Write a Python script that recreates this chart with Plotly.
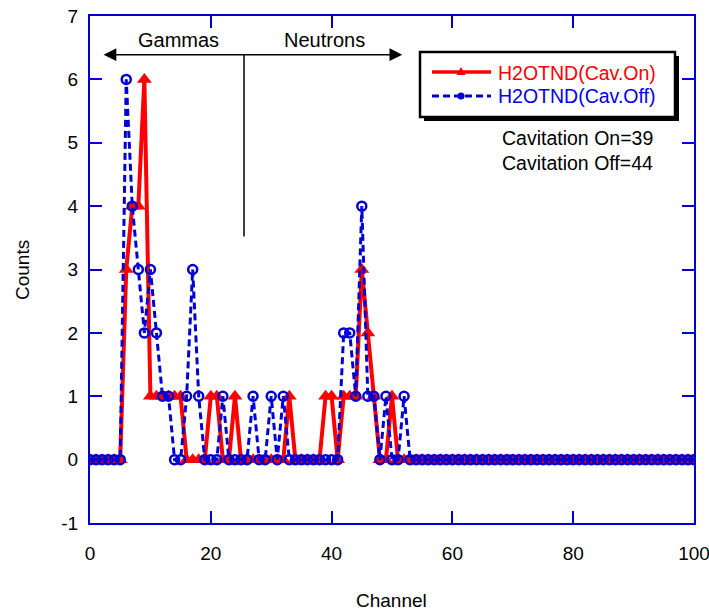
import plotly.graph_objects as go

channels = list(range(0, 101))

# Counts per channel (all channels not listed are 0)
cav_on_nonzero = {6: 3, 7: 4, 8: 4, 9: 6, 10: 1, 11: 1, 12: 1, 13: 1, 14: 1, 15: 1,
                  20: 1, 21: 1, 24: 1, 33: 1, 39: 1, 40: 1, 42: 1, 43: 1, 44: 1,
                  45: 3, 46: 2, 47: 1, 50: 1}
cav_off_nonzero = {6: 6, 7: 4, 8: 3, 9: 2, 10: 3, 11: 2, 12: 1, 13: 1, 16: 1, 17: 3,
                   18: 1, 22: 1, 27: 1, 30: 1, 32: 1, 42: 2, 43: 2, 44: 1, 45: 4,
                   46: 1, 47: 1, 49: 1, 52: 1}
cav_on = [cav_on_nonzero.get(c, 0) for c in channels]
cav_off = [cav_off_nonzero.get(c, 0) for c in channels]

x_ticks = [0, 20, 40, 60, 80, 100]
y_ticks = [-1, 0, 1, 2, 3, 4, 5, 6, 7]
y_tick_text = ["-1", "0", "1", "2", "3", "4", "5", "6", "7"]

series_names = ["H2OTND(Cav.On)", "H2OTND(Cav.Off)"]

RED = "#ff0000"
BLUE = "#0000d4"
AXIS = "#0000cc"
FONT = "Liberation Sans, Arial, sans-serif"

# plot area in pixels: left 90, right 694, top 16, bottom 523
L, R, T, B = 90, 694, 16, 523
def px(x):
    return (x - L) / (R - L)
def py(y):
    return (B - y) / (B - T)

fig = go.Figure()
fig.add_trace(go.Scatter(
    x=channels, y=cav_on, mode="lines+markers", name=series_names[0],
    line=dict(color=RED, width=4),
    marker=dict(symbol="triangle-up", size=13, color=RED),
))
fig.add_trace(go.Scatter(
    x=channels, y=cav_off, mode="lines+markers", name=series_names[1],
    line=dict(color=BLUE, width=3, dash="7px,4px"),
    marker=dict(symbol="circle-open", size=9, color=BLUE, line=dict(width=2.5, color=BLUE)),
))

axis_common = dict(
    showline=True, linecolor=AXIS, linewidth=2, mirror="ticks",
    ticks="inside", ticklen=12, tickwidth=1.5, tickcolor=AXIS,
    showgrid=False, zeroline=False, ticklabeloverflow="allow", automargin=False,
    tickfont=dict(family=FONT, size=19, color="black"),
)
fig.update_xaxes(range=[0, 100], tickvals=x_ticks, ticklabelstandoff=12, **axis_common)
fig.update_yaxes(range=[-1, 7], tickvals=y_ticks, ticktext=y_tick_text,
                 ticklabelstandoff=6, **axis_common)

fig.update_layout(
    width=709, height=614,
    margin=dict(l=L, r=709 - R, t=T, b=614 - B),
    plot_bgcolor="white", paper_bgcolor="white",
    font=dict(family=FONT, size=19, color="black"),
    showlegend=False,
)

# Axis titles
fig.add_annotation(text="Channel", xref="paper", yref="paper", x=px(391), y=py(600),
                   xanchor="center", yanchor="middle", showarrow=False, font=dict(size=19))
fig.add_annotation(text="Counts", xref="paper", yref="paper", x=px(22), y=py(270),
                   xanchor="center", yanchor="middle", textangle=-90, showarrow=False,
                   font=dict(size=19))

# Legend box (shadow + framed box)
fig.add_shape(type="rect", xref="paper", yref="paper",
              x0=px(424), x1=px(679), y0=py(121), y1=py(56),
              fillcolor="black", line=dict(width=0), layer="above")
fig.add_shape(type="rect", xref="paper", yref="paper",
              x0=px(420), x1=px(675), y0=py(117), y1=py(52),
              fillcolor="white", line=dict(color="black", width=2.5), layer="above")
# legend samples
fig.add_shape(type="line", xref="paper", yref="paper", x0=px(432), x1=px(491),
              y0=py(72), y1=py(72), line=dict(color=RED, width=3.5), layer="above")
fig.add_shape(type="path", xref="paper", yref="paper", xsizemode="pixel", ysizemode="pixel",
              xanchor=px(461), yanchor=py(72), path="M-4.5,-3 L4.5,-3 L0,5 Z",
              fillcolor=RED, line=dict(width=0), layer="above")
fig.add_shape(type="line", xref="paper", yref="paper", x0=px(432), x1=px(491),
              y0=py(96), y1=py(96), line=dict(color=BLUE, width=3, dash="7px,4px"), layer="above")
fig.add_shape(type="circle", xref="paper", yref="paper", xsizemode="pixel", ysizemode="pixel",
              xanchor=px(461), yanchor=py(96), x0=-3.5, x1=3.5, y0=-3.5, y1=3.5,
              fillcolor=BLUE, line=dict(width=0), layer="above")
fig.add_annotation(text=series_names[0], xref="paper", yref="paper", x=px(496), y=py(73),
                   xanchor="left", yanchor="middle", showarrow=False,
                   font=dict(size=19.5, color=RED))
fig.add_annotation(text=series_names[1], xref="paper", yref="paper", x=px(496), y=py(96),
                   xanchor="left", yanchor="middle", showarrow=False,
                   font=dict(size=19.5, color="#0000ee"))

# Count annotations
fig.add_annotation(text="Cavitation On=39", xref="paper", yref="paper",
                   x=px(655), y=py(138), xanchor="right", yanchor="middle",
                   showarrow=False, font=dict(size=19.5))
fig.add_annotation(text="Cavitation Off=44", xref="paper", yref="paper",
                   x=px(655), y=py(163), xanchor="right", yanchor="middle",
                   showarrow=False, font=dict(size=19.5))

# Gammas / Neutrons double arrow
fig.add_annotation(x=51.7, y=6.39, ax=2.0, ay=6.39, xref="x", yref="y", axref="x", ayref="y",
                   text="", showarrow=True, arrowhead=2, startarrowhead=2, arrowside="end+start",
                   arrowsize=1.7, startarrowsize=1.7, arrowwidth=1.5, arrowcolor="black")
fig.add_shape(type="line", xref="x", yref="y", x0=25.5, x1=25.5, y0=6.39, y1=3.52,
              line=dict(color="black", width=1.5))
fig.add_annotation(text="Gammas", x=14.7, y=6.39, xref="x", yref="y", yanchor="bottom",
                   showarrow=False, font=dict(size=20), yshift=2)
fig.add_annotation(text="Neutrons", x=38.9, y=6.39, xref="x", yref="y", yanchor="bottom",
                   showarrow=False, font=dict(size=20), yshift=2)

fig.write_html("out.html")
